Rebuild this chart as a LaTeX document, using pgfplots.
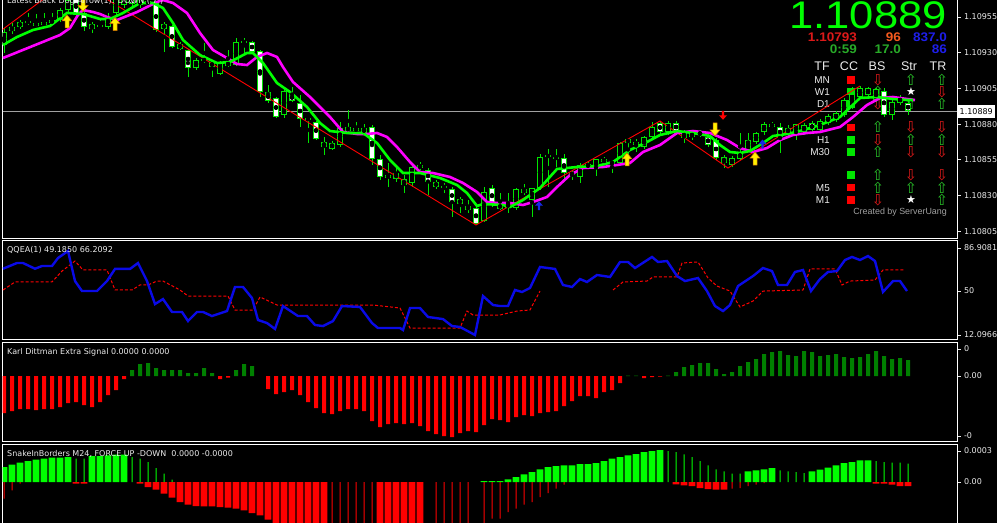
\documentclass[border=0pt]{standalone}
\usepackage{pgfplots}
\pgfplotsset{compat=1.18}
\usepackage{pgfplotstable}
\usepackage{fontspec}
\setmainfont{Liberation Sans}
\newfontfamily\dv{DejaVu Sans}
\definecolor{lime}{RGB}{0,255,0}
\definecolor{cgreen}{RGB}{0,230,0}
\definecolor{mag}{RGB}{255,0,255}
\definecolor{dgreen}{RGB}{0,128,0}
\definecolor{qblue}{RGB}{10,10,230}
\definecolor{lbl}{RGB}{235,235,235}
\definecolor{cred}{RGB}{255,0,0}
\definecolor{abl}{RGB}{20,40,230}
\definecolor{tgreen}{RGB}{40,190,40}
\definecolor{tred}{RGB}{220,25,25}
\definecolor{org}{RGB}{245,90,30}
\definecolor{bblue}{RGB}{30,30,235}
\definecolor{dgr}{RGB}{40,170,40}
\definecolor{cgray}{RGB}{160,160,160}

\pgfdeclareplotmark{bigup}{%
  \pgfpathmoveto{\pgfpoint{0bp}{6.5bp}}%
  \pgfpathlineto{\pgfpoint{5bp}{0.5bp}}%
  \pgfpathlineto{\pgfpoint{2bp}{0.5bp}}%
  \pgfpathlineto{\pgfpoint{2bp}{-6.5bp}}%
  \pgfpathlineto{\pgfpoint{-2bp}{-6.5bp}}%
  \pgfpathlineto{\pgfpoint{-2bp}{0.5bp}}%
  \pgfpathlineto{\pgfpoint{-5bp}{0.5bp}}%
  \pgfpathclose
  \pgfusepathqfillstroke}
\pgfdeclareplotmark{bigdown}{%
  \pgfpathmoveto{\pgfpoint{0bp}{-6.5bp}}%
  \pgfpathlineto{\pgfpoint{5bp}{-0.5bp}}%
  \pgfpathlineto{\pgfpoint{2bp}{-0.5bp}}%
  \pgfpathlineto{\pgfpoint{2bp}{6.5bp}}%
  \pgfpathlineto{\pgfpoint{-2bp}{6.5bp}}%
  \pgfpathlineto{\pgfpoint{-2bp}{-0.5bp}}%
  \pgfpathlineto{\pgfpoint{-5bp}{-0.5bp}}%
  \pgfpathclose
  \pgfusepathqfillstroke}
\pgfdeclareplotmark{smallup}{%
  \pgfpathmoveto{\pgfpoint{0bp}{4.5bp}}%
  \pgfpathlineto{\pgfpoint{4bp}{0bp}}%
  \pgfpathlineto{\pgfpoint{1.2bp}{0bp}}%
  \pgfpathlineto{\pgfpoint{1.2bp}{-4.5bp}}%
  \pgfpathlineto{\pgfpoint{-1.2bp}{-4.5bp}}%
  \pgfpathlineto{\pgfpoint{-1.2bp}{0bp}}%
  \pgfpathlineto{\pgfpoint{-4bp}{0bp}}%
  \pgfpathclose
  \pgfusepathqfill}
\pgfdeclareplotmark{smalldown}{%
  \pgfpathmoveto{\pgfpoint{0bp}{-4.5bp}}%
  \pgfpathlineto{\pgfpoint{4bp}{0bp}}%
  \pgfpathlineto{\pgfpoint{1.2bp}{0bp}}%
  \pgfpathlineto{\pgfpoint{1.2bp}{4.5bp}}%
  \pgfpathlineto{\pgfpoint{-1.2bp}{4.5bp}}%
  \pgfpathlineto{\pgfpoint{-1.2bp}{0bp}}%
  \pgfpathlineto{\pgfpoint{-4bp}{0bp}}%
  \pgfpathclose
  \pgfusepathqfill}

\pgfplotsset{
  panel/.style={
    scale only axis, width=954.5bp, xmin=2.5, xmax=957,
    axis line style={white, line width=1bp},
    xtick=\empty, ytick pos=right, yticklabel pos=right,
    tick align=outside, major tick length=3.5bp,
    tick style={color=lbl, line width=0.8bp},
    yticklabel style={font=\dv\fontsize{8bp}{9bp}\selectfont, text=lbl},
  },
  cbar/.style={only marks, mark=none, error bars/.cd, y dir=both, y explicit, error mark=none},
}

\pgfplotstableread{
x o h l c
4 135.4 147.3 129.8 144.5
12 145.2 150.8 143.1 148.0
20 148.0 152.9 146.6 151.5
28 152.2 157.8 149.4 150.8
36 150.8 157.1 148.0 148.7
44 151.5 157.8 148.0 149.4
52 150.8 157.8 149.4 152.9
60 152.9 161.3 151.5 159.9
68 159.9 169.7 158.5 166.9
76 168.3 171.1 155.7 156.4
84 157.8 159.9 145.2 148.0
92 146.6 151.5 143.8 150.1
100 149.4 154.3 147.3 148.0
108 148.0 157.8 146.6 152.9
116 157.8 170.4 155.7 168.3
124 163.4 172.5 161.3 169.7
132 169.0 171.8 162.7 164.1
140 166.9 169.7 161.3 163.4
148 166.2 168.3 162.7 164.1
156 164.8 166.2 144.5 145.9
164 146.6 151.5 130.5 150.1
172 148.7 149.4 133.3 134.0
180 136.1 137.5 131.9 132.6
188 131.9 132.6 113.0 119.3
196 119.3 126.3 117.9 124.9
204 125.6 136.8 122.8 124.2
212 123.5 124.9 113.0 120.0
220 115.1 124.2 114.4 122.8
228 120.7 131.9 120.0 123.5
236 121.4 140.3 120.7 137.5
244 138.2 140.3 129.8 136.8
252 137.5 138.2 129.8 130.5
260 131.2 131.9 99.0 102.5
268 102.5 107.4 94.8 96.2
276 98.3 99.0 84.3 85.0
284 86.4 106.0 84.3 103.2
292 101.1 106.0 95.5 96.2
300 94.8 100.4 78.0 83.6
308 84.3 85.0 66.8 82.9
316 81.5 82.2 68.9 69.6
324 67.5 71.0 58.4 64.0
332 62.6 68.2 61.9 66.8
340 65.4 81.5 64.0 77.3
348 78.0 89.9 74.5 75.2
356 77.3 81.5 73.8 75.2
364 73.8 80.1 72.4 77.3
372 78.0 79.4 51.4 55.6
380 55.6 58.4 40.9 43.0
388 44.4 52.8 36.0 42.3
396 45.8 51.4 39.5 41.6
404 41.6 44.4 31.8 37.4
412 38.8 51.4 36.0 50.0
420 51.4 53.5 47.9 49.3
428 47.9 49.3 30.4 39.5
436 39.5 40.9 34.6 36.0
444 36.7 38.8 31.8 35.3
452 34.6 36.0 15.0 25.5
460 27.6 29.0 17.8 24.1
468 22.7 26.9 17.8 19.9
476 21.3 22.7 9.4 10.1
484 12.2 36.0 11.5 32.5
492 35.3 37.4 22.0 24.8
500 24.1 31.8 19.9 20.6
508 21.3 31.8 17.8 24.8
516 21.3 35.3 19.9 34.6
524 34.6 38.1 30.4 31.8
532 26.9 35.3 15.0 35.3
540 35.3 59.1 33.9 57.0
548 58.4 62.6 36.0 57.0
556 57.0 62.6 50.0 56.3
564 56.3 59.1 41.6 45.8
572 45.8 47.9 40.9 44.4
580 43.0 52.8 38.8 51.4
588 52.1 53.5 48.6 50.0
596 48.6 55.6 43.7 55.6
604 55.6 57.0 51.4 53.5
612 52.1 54.2 45.8 53.5
620 52.8 67.5 51.4 66.8
628 66.8 69.6 54.9 69.6
636 67.5 69.6 60.5 65.4
644 64.0 71.7 62.6 71.0
652 71.0 81.5 69.6 78.0
660 80.8 82.2 73.1 74.5
668 74.5 82.2 72.4 80.8
676 80.8 82.2 73.8 75.2
684 74.5 75.9 66.8 70.3
692 73.8 75.2 68.9 71.0
700 72.4 75.9 71.0 74.5
708 71.0 73.1 64.0 65.4
716 68.9 70.3 54.9 56.3
724 57.0 58.4 49.3 52.8
732 51.4 57.7 50.0 56.3
740 55.6 73.8 54.9 60.5
748 61.9 73.8 60.5 68.9
756 67.5 74.5 66.1 73.8
764 74.5 81.5 72.4 80.1
772 80.1 81.5 77.3 78.0
780 78.0 80.8 59.8 71.0
788 73.8 79.4 71.0 77.3
796 73.8 80.1 68.9 80.1
804 74.5 80.8 72.4 79.4
812 80.8 82.2 74.5 75.9
820 75.9 83.6 74.5 82.2
828 80.8 87.1 79.4 85.7
836 82.9 89.2 81.5 87.8
844 86.4 98.3 85.0 96.9
852 92.0 106.0 90.6 101.1
860 99.0 106.7 97.6 105.3
868 100.4 106.0 99.0 105.3
876 96.9 105.3 95.5 104.6
884 103.2 105.3 85.0 86.4
892 86.4 98.3 82.9 95.5
900 94.8 100.4 93.4 99.0
908 94.8 97.6 86.4 88.9
}\candles

\newcommand\px[2]{(#1bp,-#2bp)}
\newcommand\dvf[1]{\dv\fontsize{#1bp}{#1bp}\selectfont}
\newcommand\lsf[1]{\fontsize{#1bp}{#1bp}\selectfont}

\begin{document}
\begin{tikzpicture}
\fill[black] (-10bp,40bp) rectangle (1010bp,-560bp);

% ---------- information table (behind the chart) ----------
\node[anchor=base east, inner sep=0pt, font=\lsf{38.5}, text=lime, xscale=1.13] at \px{947}{28.3} {1.10889};
\begin{scope}[every node/.style={anchor=base east, inner sep=0pt, font=\bfseries\lsf{12.5}, xscale=1.08}]
\node[text=tred] at \px{857}{41} {1.10793};
\node[text=org] at \px{901}{41} {96};
\node[text=bblue] at \px{947}{41} {837.0};
\node[text=dgr] at \px{857}{53.5} {0:59};
\node[text=dgr] at \px{901}{53.5} {17.0};
\node[text=bblue] at \px{947}{53.5} {86};
\end{scope}
\begin{scope}[every node/.style={anchor=base, inner sep=0pt, font=\lsf{12.5}, text=lbl}]
\node at \px{822}{70} {TF};
\node at \px{849}{70} {CC};
\node at \px{877}{70} {BS};
\node at \px{909}{70} {Str};
\node at \px{938}{70} {TR};
\end{scope}
\begin{scope}[every node/.style={anchor=base east, inner sep=0pt, font=\lsf{10}, text=lbl}]
\node at \px{830}{83.5} {MN};
\node at \px{830}{95.5} {W1};
\node at \px{830}{107.5} {D1};
\node at \px{830}{143.5} {H1};
\node at \px{830}{155.5} {M30};
\node at \px{830}{191.5} {M5};
\node at \px{830}{203.5} {M1};
\end{scope}
\begin{scope}[every node/.style={inner sep=0pt, minimum size=7.5bp}]
\node[fill=cred] at \px{851}{80} {};
\node[fill=cgreen] at \px{851}{91.7} {};
\node[fill=cgreen] at \px{851}{104} {};
\node[fill=cred] at \px{851}{127.3} {};
\node[fill=cgreen] at \px{851}{140} {};
\node[fill=cgreen] at \px{851}{152} {};
\node[fill=cgreen] at \px{851}{175} {};
\node[fill=cred] at \px{851}{187.7} {};
\node[fill=cred] at \px{851}{200} {};
\end{scope}
\newcommand\up[2]{\node[inner sep=0pt, font=\dvf{15}, text=tgreen] at \px{#1}{#2} {⇧};}
\newcommand\dn[2]{\node[inner sep=0pt, font=\dvf{15}, text=tred] at \px{#1}{#2} {⇩};}
\newcommand\st[2]{\node[inner sep=0pt, font=\dvf{11}, text=white] at \px{#1}{#2} {★};}
\dn{878}{80} \up{911}{80} \up{942}{80}
\up{878}{92} \st{911}{92} \dn{942}{92}
\dn{878}{104} \up{911}{104} \up{942}{104}
\up{878}{127} \dn{911}{127} \dn{942}{127}
\dn{878}{140} \up{911}{140} \up{942}{140}
\up{878}{152} \dn{911}{152} \dn{942}{152}
\up{878}{175} \dn{911}{175} \dn{942}{175}
\up{878}{188} \up{911}{188} \up{942}{188}
\dn{878}{200} \st{911}{200} \up{942}{200}
\node[anchor=base east, inner sep=0pt, font=\lsf{8.9}, text=cgray] at \px{947}{214} {Created by ServerUang};

% ---------- main price panel ----------
\begin{axis}[panel, at={(2.5bp,30bp)}, anchor=north west, height=268.5bp,
  ymin=-0.05, ymax=187.9,
  ytick={5,30,55,80,105,130,155},
  yticklabels={1.10805,1.10830,1.10855,1.10880,1.10905,1.10930,1.10955}]
\addplot[color=cgray, line width=0.8bp] coordinates {(2.5,88.9) (957,88.9)};
% wicks
\addplot[cbar, error bar style={draw=cgreen, line width=1bp}]
  table[x=x, y expr={(\thisrow{h}+\thisrow{l})/2}, y error expr={(\thisrow{h}-\thisrow{l})/2}] {\candles};
% body outlines
\addplot[cbar, error bar style={draw=cgreen, line width=6bp}]
  table[x=x, y expr={(\thisrow{o}+\thisrow{c})/2}, y error expr={max(abs(\thisrow{o}-\thisrow{c})/2,0.45)}] {\candles};
% hollow (rising) bodies
\addplot[restrict expr to domain={\thisrow{c}-\thisrow{o}}{0:1000}, cbar, error bar style={draw=black, line width=4bp}]
  table[x=x, y expr={(\thisrow{o}+\thisrow{c})/2}, y error expr={max(abs(\thisrow{o}-\thisrow{c})/2-0.7,0)}] {\candles};
% white (falling) bodies
\addplot[restrict expr to domain={\thisrow{o}-\thisrow{c}}{0.01:1000}, cbar, error bar style={draw=white, line width=4bp}]
  table[x=x, y expr={(\thisrow{o}+\thisrow{c})/2}, y error expr={max(abs(\thisrow{o}-\thisrow{c})/2-0.7,0)}] {\candles};
% zigzag
\addplot[color=cred, line width=0.9bp] coordinates {(2.5,146.25) (72,182.3) (476,9.4) (660,82.2) (728,49.3) (860,106.7)};
% magenta MA
\addplot[color=mag, line width=2.6bp] coordinates {
(3,126.3) (60,142.4) (70,147.3) (78,156.4) (83,159.9) (93,158.5) (100,157.1) (107,155.0) (117,152.9) (127,155.7) (137,158.5) (147,162.0) (157,165.5) (163,166.9) (173,164.8) (187,157.8) (200,143.8) (213,131.9) (227,126.3) (237,122.1) (247,121.4) (257,127.0) (267,129.8) (277,127.0) (283,120.0) (293,109.5) (310,99.0) (320,92.0) (330,85.0) (343,74.5) (357,73.1) (367,73.1) (377,73.8) (387,71.0) (397,64.0) (410,53.5) (420,46.5) (433,45.8) (450,43.0) (463,38.8) (477,32.5) (487,25.5) (497,24.8) (510,24.8) (523,23.4) (533,25.5) (547,29.0) (557,36.0) (570,44.4) (583,49.3) (603,50.0) (617,51.4) (630,52.8) (643,60.5) (660,65.4) (677,73.8) (693,75.2) (710,73.8) (727,68.9) (740,63.3) (753,60.5) (767,63.3) (780,68.9) (793,72.4) (807,73.8) (820,74.5) (840,78.0) (853,85.0) (867,93.4) (880,98.3) (893,99.0) (907,97.6) (915,96.9)};
% green MA
\addplot[color=lime, line width=2.6bp] coordinates {
(3,135.4) (17,141.0) (33,145.9) (50,148.7) (67,157.8) (83,157.1) (100,153.6) (110,153.6) (123,157.8) (140,164.8) (153,164.8) (163,161.3) (173,150.8) (183,138.9) (200,128.4) (217,122.8) (230,123.5) (247,129.8) (253,129.8) (263,122.8) (277,108.8) (290,102.5) (307,92.0) (320,80.8) (330,75.2) (347,73.8) (363,73.8) (377,66.8) (390,54.9) (403,45.8) (420,45.8) (440,42.3) (457,37.4) (467,31.8) (477,22.7) (483,24.1) (503,23.4) (510,22.0) (523,26.9) (540,35.3) (557,48.6) (577,50.0) (597,50.7) (613,53.5) (630,61.9) (647,67.5) (660,72.4) (677,75.2) (693,73.8) (710,71.7) (720,65.4) (730,60.5) (740,59.8) (750,61.2) (763,66.8) (773,71.7) (787,73.1) (800,75.2) (820,79.4) (840,85.0) (860,98.3) (877,99.0) (893,97.6) (907,96.9) (913,96.9)};
% arrows
\addplot[only marks, mark=bigup, mark options={fill=yellow, draw=orange!80!black, line width=0.5bp}] coordinates {(67,151.9) (115,150.1) (627,55.3) (755,55.9)};
\addplot[only marks, mark=bigdown, mark options={fill=yellow, draw=orange!80!black, line width=0.5bp}] coordinates {(83,163.4) (715,76.3)};
\addplot[only marks, mark=smalldown, mark options={fill=cred}] coordinates {(723,86.2)};
\addplot[only marks, mark=smallup, mark options={fill=abl}] coordinates {(539,22.9) (762.5,66.1)};
\end{axis}

% ---------- QQEA ----------
\begin{axis}[panel, at={(2.5bp,-240bp)}, anchor=north west, height=99.7bp,
  ymin=8.06, ymax=93.79,
  ytick={86.9081,50,12.0966}, yticklabels={86.9081,50,12.0966}]
\addplot[color=cred, line width=1bp, dash pattern=on 3bp off 2bp] coordinates {
(3,50.8) (15,57.7) (52,57.7) (62,67.1) (75,75.7) (83,68.0) (107,68.0) (115,50.8) (132,50.8) (140,55.1) (148,55.1) (157,58.5) (163,58.5) (180,50.8) (188,45.6) (228,45.6) (235,33.6) (253,33.6) (260,44.8) (277,37.9) (373,37.9) (400,35.3) (410,18.1) (460,18.1) (467,32.7) (473,29.3) (500,29.3) (517,32.7) (530,33.6) (540,49.9)};
\addplot[color=cred, line width=1bp, dash pattern=on 3bp off 2bp] coordinates {
(613,50.8) (623,57.7) (647,58.5) (653,62.0) (677,62.0) (682,74.0) (698,74.9) (708,61.1) (717,54.2) (730,49.9) (740,36.2) (753,41.3) (763,49.9) (803,50.8) (810,68.9) (835,68.9) (842,55.1) (850,58.5) (875,59.4) (883,68.0) (905,68.0)};
\addplot[color=qblue, line width=2.4bp] coordinates {
(3,69.1) (17,74.0) (23,74.0) (35,69.1) (42,71.4) (52,71.4) (58,78.3) (68,84.3) (75,58.5) (82,49.9) (97,49.9) (107,58.5) (115,68.9) (130,68.9) (138,74.0) (147,58.5) (155,38.7) (163,43.0) (172,31.9) (182,31.9) (188,24.1) (197,31.9) (203,31.9) (212,28.4) (227,32.7) (235,53.4) (243,53.4) (252,43.9) (258,25.0) (267,22.4) (275,17.3) (283,37.0) (298,28.4) (307,28.4) (315,20.7) (323,19.8) (333,24.1) (342,37.0) (360,36.2) (372,22.4) (378,18.1) (400,18.1) (403,16.4) (410,35.3) (420,35.3) (428,27.6) (443,25.8) (452,19.8) (460,19.0) (475,12.1) (483,45.6) (493,37.9) (500,37.0) (508,37.0) (515,50.8) (522,49.1) (530,52.5) (540,70.6) (555,68.9) (563,55.1) (572,53.4) (580,60.2) (587,57.7) (597,63.7) (610,62.0) (620,74.9) (628,74.9) (635,69.7) (652,79.2) (658,74.9) (667,75.7) (677,62.8) (685,58.5) (698,61.1) (707,49.9) (715,37.0) (723,32.7) (730,37.9) (738,54.2) (753,62.8) (763,69.7) (772,67.1) (778,55.1) (787,55.1) (795,66.3) (803,68.0) (811,49.9) (820,60.2) (828,66.3) (837,67.1) (845,76.6) (852,79.2) (860,76.6) (868,80.0) (875,75.7) (883,49.1) (893,58.5) (900,58.5) (907,49.9)};
\end{axis}

% ---------- Karl Dittman ----------
\begin{axis}[panel, at={(2.5bp,-342.3bp)}, anchor=north west, height=99.4bp,
  ymin=-65.7, ymax=33.7,
  ytick={27,0,-60}, yticklabels={0,0.00,-0}]
\addplot[ybar, bar width=4bp, bar shift=0pt, fill=cred, draw=none] coordinates {
(4,-37) (12,-35) (20,-33) (28,-33) (36,-34) (44,-33) (52,-33) (60,-31) (68,-27) (76,-26) (84,-29) (92,-31) (100,-26) (108,-19) (116,-14) (124,-3) (220,-3) (228,-1.5) (268,-13) (276,-18) (284,-16) (292,-14) (300,-19) (308,-26) (316,-32) (324,-37) (332,-38) (340,-35) (348,-33) (356,-33) (364,-35) (372,-45) (380,-51) (388,-48) (396,-47) (404,-48) (412,-47) (420,-50) (428,-55) (436,-58) (444,-60) (452,-61) (460,-57) (468,-55) (476,-56) (484,-49) (492,-43) (500,-44) (508,-46) (516,-41) (524,-39) (532,-40) (540,-37) (548,-36) (556,-35) (564,-30) (572,-25) (580,-20) (588,-20) (596,-22) (604,-16) (612,-14) (620,-7) (644,-2) (652,-1) (660,-0.7)};
\addplot[ybar, bar width=4bp, bar shift=0pt, fill=dgreen, draw=none] coordinates {
(132,6) (140,12) (148,13) (156,8) (164,6) (172,6) (180,6) (188,3) (196,3) (204,8) (212,3) (236,6) (244,12) (252,10) (628,0.5) (636,0.5) (668,0.5) (676,4) (684,9) (692,11) (700,13) (708,13) (716,7) (724,2) (732,4) (740,10) (748,14) (756,17) (764,22) (772,24) (780,25) (788,21) (796,20) (804,25) (812,24) (820,20) (828,21) (836,22) (844,19) (852,18) (860,19) (868,22) (876,25) (884,20) (892,17) (900,18) (908,16)};
\end{axis}

% ---------- SnakeInBorders ----------
\begin{axis}[panel, at={(2.5bp,-444.3bp)}, anchor=north west, height=95.7bp,
  ymin=-58, ymax=37.7,
  ytick={31,0}, yticklabels={0.0003,0.00}]
\addplot[ybar, bar width=6.7bp, bar shift=0pt, fill=lime, draw=none] coordinates {
(4,15) (12,17.3) (20,19.3) (28,21) (36,22.3) (44,23.3) (52,24.3) (60,24.3) (68,25) (92,26) (100,26) (108,26.7) (116,27.3) (124,27.3) (484,0.8) (492,0.8) (500,1) (508,2.7) (516,5) (524,7.7) (532,10) (540,12.7) (548,15) (556,16) (564,16.7) (572,16.7) (580,18) (588,18) (596,19) (604,21) (612,23.3) (620,25) (628,26.7) (636,28) (644,30) (652,31) (660,32) (748,10.7) (756,11.7) (764,12.7) (772,14) (812,10.7) (820,12.3) (828,14.3) (836,16.7) (844,19) (852,20) (860,21.7) (868,21.7)};
\addplot[ybar, bar width=6.7bp, bar shift=0pt, fill=cred, draw=none] coordinates {
(76,-1.7) (84,-1.7) (140,-1.7) (148,-5) (156,-7.7) (164,-11.7) (172,-15.7) (180,-20) (188,-22.7) (196,-24) (204,-24.3) (212,-24.3) (220,-25) (228,-25.7) (236,-26.7) (244,-28.3) (252,-31) (260,-33.3) (268,-37.7) (276,-44) (284,-46) (292,-48) (300,-49) (308,-49) (316,-48) (324,-47) (380,-46) (388,-48) (396,-49) (404,-48) (412,-47) (420,-46) (676,-2.3) (684,-3.3) (692,-4) (700,-6) (708,-7) (716,-7.7) (724,-7.7) (876,-1.7) (884,-1.7) (892,-2.7) (900,-4) (908,-4)};
\addplot[ybar, bar width=1bp, bar shift=0pt, fill=lime, draw=none] coordinates {
(76,23.3) (84,23.3) (132,25) (140,23.3) (148,20) (156,14) (164,8.3) (172,2.3) (668,31) (676,30) (684,27.7) (692,25) (700,21) (708,16.7) (716,12.7) (724,10.7) (732,8.3) (740,8.3) (780,11.7) (788,10.7) (796,10) (804,9) (876,21) (884,20) (892,19.3) (900,19.3) (908,18.3)};
\addplot[ybar, bar width=1bp, bar shift=0pt, fill=cred, draw=none] coordinates {
(4,-16.7) (12,-8.3) (20,-1.7) (332,-50) (340,-50) (348,-50) (356,-50) (364,-50) (372,-50) (436,-50) (444,-50) (452,-50) (460,-50) (468,-50) (484,-45) (492,-36.7) (500,-36.7) (508,-30) (516,-26.7) (524,-22.7) (532,-20) (540,-15) (548,-11) (556,-6.7) (564,-2.7) (732,-6.7) (740,-6) (748,-4) (756,-2.7) (764,-1)};
\end{axis}

% ---------- titles and price label ----------
\begin{scope}[every node/.style={anchor=base west, inner sep=0pt, font=\dvf{8}, text=lbl}]
\node at \px{7}{3} {Latest Black Dog Arrow(1): DOWN ( 7 )};
\node at \px{7}{252.5} {QQEA(1) 49.1850 66.2092};
\node at \px{7}{354.5} {Karl Dittman Extra Signal 0.0000 0.0000};
\node at \px{7}{456.5} {SnakeInBorders M24, FORCE UP -DOWN\ \ 0.0000 -0.0000};
\end{scope}
\node[anchor=west, fill=white, text=black, font=\dvf{8}, inner xsep=2bp, inner ysep=0pt, minimum height=13bp] at \px{957.5}{111.4} {1.10889};

\pgfresetboundingbox
\path[use as bounding box] (0,0) rectangle (997bp,-523bp);
\end{tikzpicture}
\end{document}
